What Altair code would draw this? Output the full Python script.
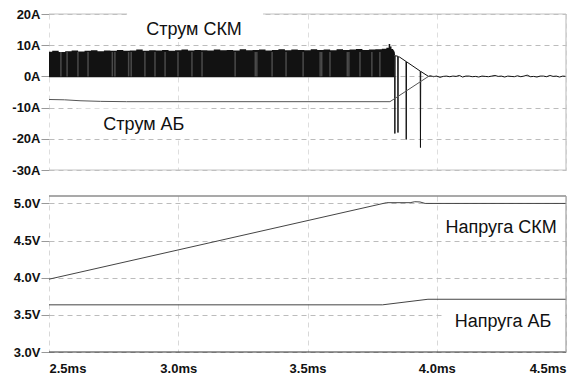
import altair as alt
import numpy as np
import pandas as pd

# ---------------- top panel: currents (A) ----------------
# PWM block of the SKM current: upper envelope sampled every 0.025 ms from 2.5 to 3.8 ms
pwm_hi = [7.9, 8.2, 7.8, 8.1, 8.3, 8.0, 8.2, 8.4, 8.1, 8.3,
          8.2, 8.5, 8.2, 8.3, 8.6, 8.2, 8.4, 8.3, 8.5, 8.2,
          8.4, 8.6, 8.3, 8.5, 8.4, 8.3, 8.6, 8.4, 8.5, 8.3,
          8.7, 8.4, 8.5, 8.6, 8.3, 8.5, 8.7, 8.4, 8.6, 8.5,
          8.4, 8.7, 8.5, 8.6, 8.4, 8.7, 8.5, 8.6, 8.8, 8.5,
          8.6, 8.7, 8.9]
pwm_tail_t = [3.81, 3.818, 3.822, 3.828, 3.835]
pwm_tail_hi = [9.2, 10.4, 9.6, 8.8, 8.4]
pwm_low = -0.3
# lighter (grey) switching stripes visible inside the PWM block, ms
stripe_t = [2.546, 2.570, 2.612, 2.651, 2.745, 2.755, 2.808, 2.818, 2.871, 2.910,
            2.949, 2.999, 3.053, 3.092, 3.220, 3.298, 3.304, 3.363, 3.417, 3.483,
            3.549, 3.555, 3.587, 3.654, 3.660, 3.703, 3.749, 3.780]

# SKM current after PWM stops: decay with negative spikes
skm_t = [3.835, 3.837, 3.838, 3.839, 3.849, 3.850, 3.851, 3.856,
         3.881, 3.882, 3.883, 3.936, 3.937, 3.938, 3.968]
skm_v = [8.0, 6.8, -18.3, 6.6, 6.5, -18.0, 6.3, 6.2,
         4.8, -20.2, 4.7, 1.7, -22.8, 1.6, 0.0]
# residual noise around 0 A, 3.975 .. 4.5 ms
noise_v = [0.2, -0.1, 0.1, -0.3, 0.0, 0.1, -0.1, 0.1, 0.0, 0.3,
           -0.2, 0.1, 0.1, -0.1, 0.0, -0.2, 0.1, 0.0, -0.1, 0.1,
           0.3, 0.0, 0.1, -0.2, 0.1, 0.0, -0.1, 0.2, -0.1, 0.1,
           0.4, -0.1, 0.0, -0.2, 0.1, 0.1, -0.1, 0.3, 0.0, 0.1,
           -0.2, 0.1, 0.0]

# battery (АБ) current
ab_t = [2.50, 2.56, 2.62, 2.70, 2.80, 3.819, 3.968, 4.00]
ab_v = [-7.4, -7.5, -7.8, -8.0, -8.1, -8.1, 0.0, 0.0]

# ---------------- bottom panel: voltages (V) ----------------
vskm_t = [2.50, 3.806, 3.897, 3.915, 3.935, 3.955, 4.50]
vskm_v = [3.98, 5.01, 5.01, 5.023, 5.02, 5.00, 5.00]
vab_t = [2.50, 3.79, 3.966, 4.50]
vab_v = [3.635, 3.635, 3.71, 3.71]

# ---------------- annotations ----------------
top_labels = ["Струм СКМ", "Струм АБ"]
top_label_t = [3.061, 2.867]
top_label_v = [13.2, -17.3]
top_box_t1 = [2.802, 2.61]
top_box_t2 = [3.328, 3.118]
top_box_v1 = [11.0, -19.5]
top_box_v2 = [21.5, -10.3]

bot_labels = ["Напруга СКМ", "Напруга АБ"]
bot_label_t = [4.249, 4.256]
bot_label_v = [4.602, 3.337]
bot_box_t1 = [4.012, 4.03]
bot_box_t2 = [4.496, 4.496]
bot_box_v1 = [4.52, 3.19]
bot_box_v2 = [4.94, 3.66]

x_ticks = [2.5, 3.0, 3.5, 4.0, 4.5]
amp_ticks = [-30, -20, -10, 0, 10, 20]
volt_ticks = [3.0, 3.5, 4.0, 4.5, 5.0]

# ---------------- frames ----------------
pwm_t_grid = np.round(np.linspace(2.5, 3.8, len(pwm_hi)), 4).tolist()
pwm_df = pd.DataFrame({"t": pwm_t_grid + pwm_tail_t,
                       "hi": pwm_hi + pwm_tail_hi})
pwm_df["lo"] = pwm_low
stripe_df = pd.DataFrame({"t": stripe_t})
noise_t = np.round(np.linspace(3.975, 4.5, len(noise_v)), 4).tolist()
skm_df = pd.DataFrame({"t": skm_t + noise_t, "v": skm_v + noise_v})
ab_df = pd.DataFrame({"t": ab_t, "v": ab_v})
vskm_df = pd.DataFrame({"t": vskm_t, "v": vskm_v})
vab_df = pd.DataFrame({"t": vab_t, "v": vab_v})
top_lab_df = pd.DataFrame({"t": top_label_t, "v": top_label_v, "txt": top_labels})
top_box_df = pd.DataFrame({"t1": top_box_t1, "t2": top_box_t2, "v1": top_box_v1, "v2": top_box_v2})
bot_lab_df = pd.DataFrame({"t": bot_label_t, "v": bot_label_v, "txt": bot_labels})
bot_box_df = pd.DataFrame({"t1": bot_box_t1, "t2": bot_box_t2, "v1": bot_box_v1, "v2": bot_box_v2})
one = pd.DataFrame({"k": [0]})

FONT = "Liberation Sans"
W, H = 517, 156

xscale = alt.Scale(domain=[2.5, 4.5], nice=False, zero=False)
ascale = alt.Scale(domain=[-30, 20], nice=False, zero=False)
vscale = alt.Scale(domain=[3.0, 5.1], nice=False, zero=False)

x_top_axis = alt.Axis(values=x_ticks, labels=False, ticks=False, domain=False,
                      title=None, gridColor="#dedede", grid=True, gridDash=[5, 4],
                      minExtent=0, maxExtent=0)
x_bot_axis = alt.Axis(values=x_ticks, labelExpr="format(datum.value, '.1f') + 'ms'",
                      tickSize=0, ticks=False, domain=False, title=None,
                      labelPadding=10, labelOverlap=False,
                      gridColor="#d8d8d8", grid=True, gridDash=[5, 4])
y_axis_common = dict(title=None, domain=False, tickSize=8, tickColor="#999",
                     labelPadding=1, minExtent=41, maxExtent=41,
                     labelOverlap=False, grid=True, gridDash=[5, 4],
                     gridColor="#bcbcbc", gridWidth=1)
a_axis = alt.Axis(values=amp_ticks, labelExpr="datum.value + 'A'", **y_axis_common)
v_axis = alt.Axis(values=volt_ticks, labelExpr="format(datum.value, '.1f') + 'V'", **y_axis_common)


def XT(field):
    return alt.X(field, scale=xscale, axis=x_top_axis)


def XB(field):
    return alt.X(field, scale=xscale, axis=x_bot_axis)


def YA(field):
    return alt.Y(field, scale=ascale, axis=a_axis)


def YV(field):
    return alt.Y(field, scale=vscale, axis=v_axis)


# ----- top panel layers -----
pwm = alt.Chart(pwm_df).mark_area(color="#121212", opacity=1, interpolate="step").encode(
    x=XT("t:Q"), y=YA("hi:Q"), y2="lo:Q")
stripes = alt.Chart(stripe_df).mark_rule(color="#4a4a4a", strokeWidth=1.5).encode(
    x=XT("t:Q"), y=alt.YDatum(0.0, scale=ascale, axis=a_axis), y2=alt.datum(7.8))
skm = alt.Chart(skm_df).mark_line(color="#111", strokeWidth=1).encode(
    x=XT("t:Q"), y=YA("v:Q"), order="t:Q")
abl = alt.Chart(ab_df).mark_line(color="#555", strokeWidth=1).encode(
    x=XT("t:Q"), y=YA("v:Q"), order="t:Q")
top_b1 = alt.Chart(one).mark_rule(color="#c4c4c4", strokeWidth=1.2).encode(
    y=alt.YDatum(20, scale=ascale, axis=a_axis))
top_b2 = alt.Chart(one).mark_rule(color="#c4c4c4", strokeWidth=1.2).encode(
    y=alt.YDatum(-30, scale=ascale, axis=a_axis))
top_b3 = alt.Chart(one).mark_rule(color="#c4c4c4", strokeWidth=1.2).encode(
    x=alt.XDatum(4.5, scale=xscale, axis=x_top_axis))
top_box = alt.Chart(top_box_df).mark_rect(color="white").encode(
    x=XT("t1:Q"), x2="t2:Q", y=YA("v1:Q"), y2="v2:Q")
top_txt = alt.Chart(top_lab_df).mark_text(font=FONT, fontSize=18, color="#111",
                                          align="center", baseline="alphabetic").encode(
    x=XT("t:Q"), y=YA("v:Q"), text="txt:N")

top = alt.layer(pwm, stripes, skm, abl, top_b1, top_b2, top_b3,
                top_box, top_txt).properties(width=W, height=H)

# ----- bottom panel layers -----
vs = alt.Chart(vskm_df).mark_line(color="#444", strokeWidth=1).encode(
    x=XB("t:Q"), y=YV("v:Q"), order="t:Q")
va = alt.Chart(vab_df).mark_line(color="#444", strokeWidth=1).encode(
    x=XB("t:Q"), y=YV("v:Q"), order="t:Q")
bot_b1 = alt.Chart(one).mark_rule(color="#555", strokeWidth=1.2).encode(
    y=alt.YDatum(5.1, scale=vscale, axis=v_axis))
bot_b2 = alt.Chart(one).mark_rule(color="#333", strokeWidth=1.2).encode(
    y=alt.YDatum(3.0, scale=vscale, axis=v_axis))
bot_b3 = alt.Chart(one).mark_rule(color="#a0a0a0", strokeWidth=1.2).encode(
    x=alt.XDatum(4.5, scale=xscale, axis=x_bot_axis))
bot_box = alt.Chart(bot_box_df).mark_rect(color="white").encode(
    x=XB("t1:Q"), x2="t2:Q", y=YV("v1:Q"), y2="v2:Q")
bot_txt = alt.Chart(bot_lab_df).mark_text(font=FONT, fontSize=18, color="#111",
                                          align="center", baseline="alphabetic").encode(
    x=XB("t:Q"), y=YV("v:Q"), text="txt:N")

bottom = alt.layer(vs, va, bot_b1, bot_b2, bot_b3,
                   bot_box, bot_txt).properties(width=W, height=H)

chart = alt.vconcat(top, bottom, spacing=26, bounds="flush").resolve_scale(
    x="independent"
).properties(
    padding={"left": 0, "top": 0, "right": 5, "bottom": 0},
    background="white",
).configure_view(stroke=None).configure_axis(
    labelFont=FONT, labelFontSize=13, labelFontWeight="bold", labelColor="#111"
)

chart.save("out.html", embed_options={"renderer": "svg", "actions": False})
